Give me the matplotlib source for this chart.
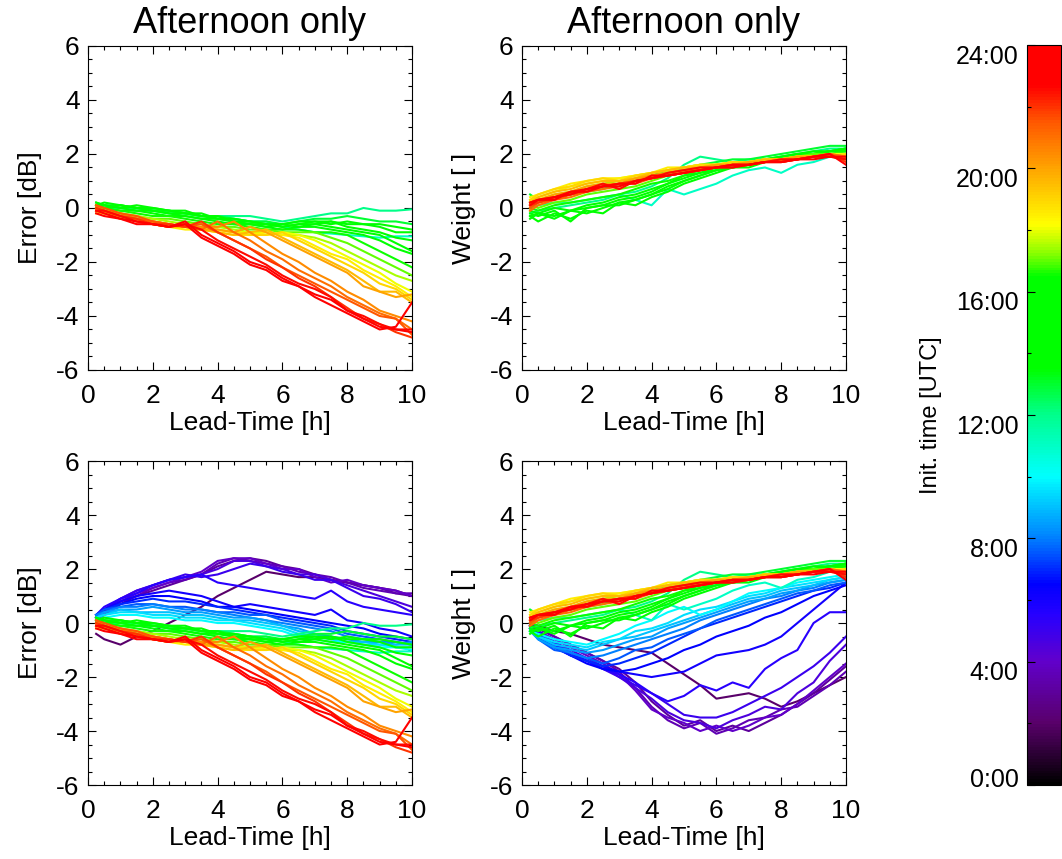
import matplotlib
matplotlib.use('Agg')
import matplotlib.pyplot as plt
import matplotlib.transforms as mtransforms
from matplotlib.colors import LinearSegmentedColormap, Normalize
from matplotlib.cm import ScalarMappable
from matplotlib.ticker import MultipleLocator

plt.rcParams['font.family'] = ['Liberation Sans', 'DejaVu Sans']
plt.rcParams['axes.unicode_minus'] = False

# Lead times [h]
lead = [0.25, 0.5, 1.0, 1.5, 2.0, 2.5, 3.0, 3.5, 4.0, 4.5, 5.0,
        5.5, 6.0, 6.5, 7.0, 7.5, 8.0, 8.5, 9.0, 9.5, 10.0]

# Init times [UTC hours], morning runs (shown only in the lower panels)
init_morning = [2.0, 3.0, 3.5, 4.0, 4.5, 5.0, 5.5, 6.0,
                6.5, 7.0, 7.5, 8.0, 8.5, 9.0, 9.5, 10.0]

# Init times [UTC hours], afternoon runs (all panels)
init_afternoon = [11.0, 12.0, 13.0, 14.0, 14.5, 15.0, 15.5, 16.0, 16.5,
                  17.0, 17.5, 18.0, 18.5, 19.0, 19.5, 20.0, 20.5, 21.0,
                  21.5, 22.0, 22.5, 23.0, 23.5]

# Error [dB], morning runs
err_morning = [
    [-0.4, -0.6, -0.8, -0.5, -0.3, 0.0, 0.3, 0.6, 1.0, 1.3, 1.6, 1.9, 1.8, 1.7, 1.7, 1.6, 1.5, 1.4, 1.3, 1.2, 1.0],
    [0.1, 0.3, 0.7, 1.0, 1.2, 1.4, 1.6, 1.8, 2.1, 2.3, 2.4, 2.3, 2.1, 2.0, 1.8, 1.6, 1.5, 1.4, 1.3, 1.1, 1.0],
    [0.2, 0.4, 0.8, 1.0, 1.3, 1.5, 1.6, 1.8, 2.2, 2.4, 2.3, 2.2, 2.1, 1.9, 1.8, 1.7, 1.5, 1.3, 1.2, 1.1, 1.1],
    [0.2, 0.4, 0.8, 1.1, 1.3, 1.5, 1.7, 1.9, 2.3, 2.4, 2.4, 2.2, 2.0, 2.0, 1.7, 1.5, 1.6, 1.4, 1.3, 1.2, 1.0],
    [0.2, 0.5, 0.9, 1.2, 1.4, 1.6, 1.7, 1.8, 2.0, 2.3, 2.3, 2.1, 2.0, 1.8, 1.8, 1.6, 1.4, 1.2, 1.0, 0.8, 0.6],
    [0.3, 0.5, 0.9, 1.2, 1.4, 1.6, 1.8, 1.7, 1.8, 2.0, 2.2, 2.1, 1.9, 1.8, 1.6, 1.6, 1.3, 1.0, 0.9, 0.7, 0.4],
    [0.3, 0.6, 0.9, 1.1, 1.4, 1.6, 1.7, 1.8, 1.5, 1.4, 1.3, 1.2, 1.1, 1.0, 0.9, 1.2, 0.8, 0.6, 0.5, 0.4, 0.3],
    [0.2, 0.5, 0.8, 1.0, 1.1, 1.2, 1.1, 1.0, 0.8, 0.6, 0.7, 0.6, 0.5, 0.4, 0.3, 0.5, 0.1, 0.0, -0.2, -0.3, -0.5],
    [0.3, 0.5, 0.7, 0.9, 1.0, 1.0, 0.9, 0.8, 0.6, 0.6, 0.5, 0.4, 0.3, 0.2, 0.1, 0.0, -0.1, -0.2, -0.4, -0.5, -0.6],
    [0.3, 0.5, 0.7, 0.8, 0.9, 0.8, 0.8, 0.7, 0.6, 0.5, 0.4, 0.3, 0.2, 0.1, 0.0, -0.1, -0.3, -0.4, -0.5, -0.6, -0.7],
    [0.3, 0.5, 0.6, 0.7, 0.7, 0.6, 0.6, 0.5, 0.4, 0.4, 0.3, 0.3, 0.1, 0.0, -0.1, -0.2, -0.4, -0.5, -0.6, -0.7, -0.8],
    [0.3, 0.4, 0.6, 0.6, 0.7, 0.6, 0.5, 0.5, 0.4, 0.3, 0.2, 0.1, 0.0, -0.1, -0.2, -0.3, -0.5, -0.6, -0.7, -0.7, -0.8],
    [0.2, 0.4, 0.5, 0.5, 0.6, 0.5, 0.4, 0.4, 0.3, 0.2, 0.2, 0.1, -0.1, -0.2, -0.4, -0.5, -0.6, -0.7, -0.7, -0.8, -0.7],
    [0.2, 0.3, 0.5, 0.4, 0.4, 0.4, 0.3, 0.3, 0.2, 0.1, 0.1, 0.0, -0.1, -0.3, -0.4, -0.6, -0.7, -0.7, -0.8, -0.8, -0.8],
    [0.2, 0.3, 0.4, 0.4, 0.3, 0.3, 0.2, 0.2, 0.1, 0.1, 0.0, -0.1, -0.2, -0.4, -0.5, -0.6, -0.7, -0.8, -0.8, -0.9, -0.9],
    [0.1, 0.2, 0.3, 0.3, 0.2, 0.2, 0.1, 0.1, 0.0, 0.0, -0.1, -0.2, -0.3, -0.5, -0.6, -0.7, -0.7, -0.8, -0.9, -0.9, -1.0],
]

# Error [dB], afternoon runs
err_afternoon = [
    [0.1, 0.0, 0.0, -0.1, -0.1, -0.2, -0.2, -0.3, -0.3, -0.4, -0.5, -0.5, -0.7, -0.8, -0.9, -0.95, -1.0, -1.05, -1.1, -1.05, -1.05],
    [0.1, 0.1, 0.0, 0.0, -0.1, -0.1, -0.2, -0.3, -0.3, -0.3, -0.3, -0.4, -0.5, -0.4, -0.3, -0.2, -0.2, 0.0, -0.1, -0.1, -0.05],
    [0.2, 0.1, 0.1, 0.0, -0.1, -0.1, -0.2, -0.3, -0.3, -0.4, -0.5, -0.5, -0.6, -0.5, -0.4, -0.4, -0.3, -0.4, -0.5, -0.5, -0.6],
    [0.1, 0.2, 0.1, 0.0, 0.0, -0.1, -0.2, -0.2, -0.4, -0.4, -0.5, -0.6, -0.6, -0.5, -0.5, -0.6, -0.5, -0.6, -0.6, -0.7, -0.8],
    [0.2, 0.1, 0.0, 0.1, 0.0, -0.1, -0.1, -0.3, -0.3, -0.5, -0.5, -0.6, -0.7, -0.6, -0.5, -0.5, -0.6, -0.6, -0.7, -0.9, -0.9],
    [0.1, 0.0, 0.1, 0.0, -0.1, -0.2, -0.2, -0.3, -0.4, -0.5, -0.6, -0.6, -0.7, -0.6, -0.6, -0.5, -0.7, -0.8, -0.9, -1.1, -1.2],
    [0.0, 0.1, 0.0, -0.1, -0.1, -0.2, -0.3, -0.4, -0.4, -0.5, -0.6, -0.7, -0.6, -0.7, -0.6, -0.7, -0.8, -0.9, -1.0, -1.3, -1.6],
    [0.1, 0.0, -0.1, -0.1, -0.2, -0.3, -0.3, -0.4, -0.5, -0.6, -0.6, -0.7, -0.8, -0.7, -0.7, -0.8, -0.9, -1.0, -1.2, -1.5, -1.7],
    [0.0, 0.0, -0.1, -0.2, -0.3, -0.3, -0.4, -0.5, -0.6, -0.6, -0.7, -0.8, -0.8, -0.8, -0.9, -0.9, -1.0, -1.3, -1.6, -1.9, -2.2],
    [-0.1, -0.1, -0.2, -0.3, -0.4, -0.4, -0.5, -0.6, -0.7, -0.7, -0.8, -0.8, -0.9, -0.9, -0.9, -1.1, -1.3, -1.6, -1.9, -2.2, -2.5],
    [0.0, -0.1, -0.2, -0.3, -0.4, -0.5, -0.6, -0.6, -0.7, -0.8, -0.9, -0.9, -1.0, -1.0, -1.1, -1.3, -1.6, -1.9, -2.2, -2.5, -2.7],
    [-0.1, -0.2, -0.3, -0.4, -0.5, -0.6, -0.7, -0.7, -0.8, -0.9, -0.9, -1.0, -0.9, -1.0, -1.2, -1.5, -1.8, -2.1, -2.4, -2.8, -3.1],
    [-0.2, -0.2, -0.4, -0.4, -0.6, -0.7, -0.8, -0.8, -0.9, -1.0, -1.0, -0.9, -1.0, -1.1, -1.4, -1.7, -1.9, -2.3, -2.6, -2.9, -3.3],
    [-0.1, -0.2, -0.3, -0.5, -0.6, -0.7, -0.7, -0.8, -0.8, -0.9, -1.0, -1.0, -0.9, -1.2, -1.5, -1.8, -2.1, -2.4, -2.8, -3.0, -3.4],
    [-0.1, -0.2, -0.3, -0.4, -0.6, -0.7, -0.7, -0.8, -0.9, -1.0, -0.9, -0.8, -1.1, -1.4, -1.7, -2.0, -2.3, -2.7, -3.1, -3.1, -3.5],
    [0.0, -0.2, -0.3, -0.4, -0.5, -0.6, -0.7, -0.8, -0.8, -0.9, -0.7, -0.9, -1.2, -1.5, -1.8, -2.1, -2.4, -2.9, -3.1, -3.3, -3.2],
    [0.1, -0.1, -0.2, -0.4, -0.5, -0.6, -0.7, -0.7, -0.7, -0.5, -0.9, -1.3, -1.7, -2.0, -2.4, -2.7, -3.1, -3.4, -3.8, -4.0, -4.2],
    [0.0, -0.1, -0.3, -0.4, -0.5, -0.6, -0.7, -0.8, -0.5, -0.9, -1.2, -1.6, -1.9, -2.3, -2.6, -2.9, -3.3, -3.6, -3.9, -4.1, -4.5],
    [0.1, 0.0, -0.2, -0.3, -0.5, -0.6, -0.7, -0.6, -0.9, -1.2, -1.5, -1.8, -2.2, -2.5, -2.8, -3.1, -3.4, -3.7, -4.0, -4.1, -4.7],
    [0.0, -0.1, -0.3, -0.4, -0.6, -0.6, -0.7, -0.5, -0.9, -1.2, -1.5, -1.9, -2.2, -2.6, -2.9, -3.3, -3.7, -4.1, -4.3, -4.6, -4.8],
    [-0.1, -0.1, -0.3, -0.5, -0.6, -0.7, -0.6, -0.8, -1.2, -1.5, -1.8, -2.1, -2.5, -2.8, -3.0, -3.3, -3.8, -4.0, -4.3, -4.5, -4.5],
    [-0.1, -0.2, -0.4, -0.5, -0.6, -0.7, -0.5, -1.0, -1.3, -1.6, -2.0, -2.2, -2.6, -2.9, -3.2, -3.4, -3.8, -4.1, -4.4, -4.5, -4.6],
    [-0.2, -0.3, -0.4, -0.6, -0.6, -0.7, -0.6, -1.1, -1.4, -1.7, -2.1, -2.3, -2.7, -2.9, -3.3, -3.6, -3.9, -4.2, -4.5, -4.4, -3.5],
]

# Weight [ ], morning runs
wgt_morning = [
    [0.0, -0.1, -0.3, -0.4, -0.6, -0.8, -0.9, -1.0, -1.1, -1.5, -1.9, -2.3, -2.8, -2.7, -2.6, -2.8, -3.1, -2.9, -2.6, -2.3, -2.0],
    [0.0, -0.2, -0.5, -0.8, -1.1, -1.4, -1.7, -2.2, -2.9, -3.4, -3.8, -3.6, -4.0, -3.8, -4.0, -3.7, -3.4, -3.0, -2.6, -2.1, -1.6],
    [0.0, -0.2, -0.5, -0.8, -1.1, -1.4, -1.8, -2.4, -3.1, -3.6, -3.9, -3.7, -4.1, -3.9, -3.6, -3.5, -3.2, -3.1, -2.7, -2.3, -1.8],
    [-0.1, -0.3, -0.6, -0.9, -1.2, -1.5, -1.9, -2.5, -3.2, -3.5, -3.7, -4.0, -3.8, -4.0, -3.8, -3.5, -3.4, -3.0, -2.5, -2.0, -1.5],
    [-0.1, -0.3, -0.7, -1.0, -1.3, -1.6, -2.0, -2.4, -2.8, -3.3, -3.6, -3.7, -3.9, -3.6, -3.4, -3.1, -3.2, -2.6, -2.2, -1.4, -0.8],
    [-0.1, -0.3, -0.7, -1.1, -1.4, -1.7, -2.0, -2.3, -2.6, -3.0, -3.4, -3.5, -3.5, -3.3, -3.0, -2.7, -2.4, -2.0, -1.6, -1.1, -0.5],
    [-0.1, -0.4, -0.8, -1.1, -1.4, -1.7, -1.9, -2.2, -2.6, -2.9, -2.7, -2.3, -2.5, -2.2, -2.4, -1.7, -1.3, -1.0, 0.0, 0.4, 0.4],
    [-0.1, -0.4, -0.8, -1.2, -1.4, -1.6, -1.8, -1.9, -2.0, -1.9, -1.8, -1.5, -1.2, -1.1, -1.0, -0.8, -0.5, 0.0, 0.5, 1.0, 1.5],
    [-0.2, -0.5, -0.9, -1.2, -1.5, -1.7, -1.8, -1.7, -1.5, -1.3, -1.0, -0.8, -0.5, -0.3, -0.1, 0.2, 0.4, 0.7, 1.0, 1.2, 1.4],
    [-0.2, -0.5, -0.9, -1.2, -1.4, -1.6, -1.5, -1.3, -1.1, -0.8, -0.5, -0.2, 0.0, 0.2, 0.4, 0.6, 0.8, 1.0, 1.2, 1.3, 1.5],
    [-0.2, -0.6, -1.0, -1.1, -1.3, -1.5, -1.3, -1.0, -0.9, -0.6, -0.4, -0.2, 0.1, 0.3, 0.5, 0.7, 0.9, 1.1, 1.2, 1.4, 1.5],
    [-0.2, -0.6, -0.9, -1.1, -1.3, -1.2, -1.0, -0.8, -0.6, -0.4, -0.2, 0.1, 0.3, 0.5, 0.7, 0.9, 1.0, 1.2, 1.3, 1.5, 1.6],
    [-0.3, -0.6, -0.9, -1.0, -1.1, -1.0, -0.8, -0.6, -0.5, -0.2, 0.0, 0.2, 0.4, 0.6, 0.8, 0.9, 1.1, 1.2, 1.4, 1.5, 1.6],
    [-0.3, -0.5, -0.8, -0.9, -1.0, -0.8, -0.6, -0.5, -0.3, -0.1, 0.1, 0.3, 0.5, 0.7, 0.9, 1.0, 1.2, 1.3, 1.4, 1.6, 1.7],
    [-0.3, -0.5, -0.7, -0.8, -0.9, -0.7, -0.6, -0.3, -0.2, 0.0, 0.3, 0.5, 0.6, 0.8, 1.0, 1.1, 1.3, 1.4, 1.5, 1.6, 1.7],
    [-0.3, -0.4, -0.6, -0.7, -0.8, -0.6, -0.4, -0.1, 0.1, 0.4, 0.6, 0.3, 0.5, 0.8, 1.1, 1.2, 1.3, 1.5, 1.6, 1.7, 1.8],
]

# Weight [ ], afternoon runs
wgt_afternoon = [
    [0.0, 0.1, 0.2, 0.2, 0.3, 0.4, 0.5, 0.3, 0.1, 0.7, 0.5, 0.7, 0.9, 1.2, 1.4, 1.5, 1.3, 1.6, 1.7, 1.9, 2.0],
    [-0.2, -0.1, 0.0, 0.1, 0.2, 0.3, 0.5, 0.6, 0.8, 1.1, 1.6, 1.9, 1.8, 1.7, 1.8, 1.8, 1.9, 2.0, 2.1, 2.2, 2.2],
    [0.5, 0.3, 0.4, 0.5, 0.6, 0.7, 0.9, 1.0, 1.2, 1.4, 1.5, 1.6, 1.7, 1.8, 1.8, 1.9, 2.0, 2.1, 2.2, 2.3, 2.3],
    [-0.3, -0.2, -0.4, -0.1, -0.2, 0.0, 0.2, 0.1, 0.4, 0.6, 0.9, 1.1, 1.3, 1.5, 1.6, 1.7, 1.8, 1.9, 2.0, 2.1, 2.2],
    [-0.4, -0.2, -0.3, -0.1, 0.0, 0.1, 0.1, 0.3, 0.5, 0.7, 1.0, 1.2, 1.4, 1.5, 1.6, 1.7, 1.8, 1.9, 2.0, 2.1, 2.1],
    [-0.3, -0.5, -0.2, -0.4, -0.1, -0.2, 0.2, 0.3, 0.5, 0.8, 1.0, 1.2, 1.4, 1.5, 1.5, 1.7, 1.8, 1.9, 2.0, 2.1, 2.2],
    [-0.2, -0.3, -0.1, -0.5, 0.0, 0.1, 0.3, 0.4, 0.6, 0.9, 1.1, 1.3, 1.4, 1.6, 1.7, 1.8, 1.9, 2.0, 2.1, 2.1, 2.2],
    [-0.1, -0.2, 0.0, -0.1, 0.1, 0.2, 0.4, 0.5, 0.7, 0.9, 1.2, 1.3, 1.5, 1.6, 1.7, 1.8, 1.9, 2.0, 2.0, 2.1, 2.1],
    [0.0, -0.1, 0.1, 0.2, 0.3, 0.4, 0.5, 0.7, 0.9, 1.0, 1.2, 1.4, 1.5, 1.6, 1.7, 1.8, 1.8, 1.9, 2.0, 2.0, 2.1],
    [0.1, 0.0, 0.2, 0.3, 0.5, 0.6, 0.7, 0.8, 1.0, 1.2, 1.3, 1.4, 1.5, 1.6, 1.7, 1.8, 1.8, 1.9, 2.0, 2.0, 2.0],
    [0.2, 0.3, 0.5, 0.6, 0.8, 0.9, 1.0, 1.1, 1.2, 1.3, 1.4, 1.5, 1.6, 1.7, 1.7, 1.8, 1.8, 1.9, 1.9, 2.0, 2.0],
    [0.3, 0.4, 0.6, 0.8, 0.9, 1.0, 1.1, 1.2, 1.3, 1.4, 1.5, 1.6, 1.6, 1.7, 1.7, 1.8, 1.8, 1.9, 1.9, 2.0, 2.0],
    [0.4, 0.5, 0.7, 0.9, 1.0, 1.1, 1.1, 1.2, 1.3, 1.5, 1.5, 1.6, 1.6, 1.7, 1.7, 1.8, 1.8, 1.9, 1.9, 2.0, 1.9],
    [0.3, 0.5, 0.7, 0.8, 1.0, 1.1, 1.0, 1.2, 1.3, 1.4, 1.5, 1.6, 1.6, 1.7, 1.7, 1.8, 1.8, 1.9, 1.9, 1.9, 2.0],
    [0.2, 0.4, 0.6, 0.7, 0.9, 1.0, 1.0, 1.1, 1.3, 1.4, 1.5, 1.5, 1.6, 1.6, 1.7, 1.8, 1.8, 1.9, 1.9, 2.0, 1.9],
    [0.1, 0.3, 0.5, 0.6, 0.8, 0.9, 0.9, 1.1, 1.2, 1.3, 1.4, 1.5, 1.6, 1.6, 1.7, 1.7, 1.8, 1.9, 1.9, 2.0, 1.9],
    [0.0, 0.2, 0.4, 0.5, 0.7, 0.8, 0.9, 1.0, 1.2, 1.3, 1.4, 1.5, 1.5, 1.6, 1.6, 1.7, 1.8, 1.8, 1.9, 2.0, 1.8],
    [-0.1, 0.1, 0.3, 0.4, 0.6, 0.7, 0.8, 1.0, 1.1, 1.3, 1.4, 1.4, 1.5, 1.6, 1.6, 1.7, 1.8, 1.8, 1.9, 2.0, 1.9],
    [0.0, 0.2, 0.3, 0.5, 0.6, 0.8, 0.9, 0.9, 1.1, 1.2, 1.3, 1.4, 1.5, 1.6, 1.6, 1.7, 1.7, 1.8, 1.9, 1.9, 1.8],
    [0.1, 0.2, 0.4, 0.5, 0.7, 0.8, 0.9, 1.0, 1.1, 1.2, 1.3, 1.4, 1.5, 1.5, 1.6, 1.7, 1.7, 1.8, 1.9, 2.0, 1.7],
    [0.2, 0.3, 0.4, 0.6, 0.7, 0.9, 0.7, 1.0, 1.1, 1.3, 1.4, 1.5, 1.5, 1.6, 1.6, 1.7, 1.8, 1.8, 1.9, 1.9, 1.8],
    [0.1, 0.3, 0.3, 0.6, 0.6, 0.8, 0.9, 0.9, 1.2, 1.2, 1.3, 1.4, 1.5, 1.6, 1.6, 1.7, 1.7, 1.8, 1.9, 2.0, 1.6],
    [0.2, 0.3, 0.4, 0.5, 0.7, 0.8, 0.8, 1.0, 1.1, 1.2, 1.3, 1.4, 1.5, 1.5, 1.6, 1.7, 1.7, 1.8, 1.8, 1.9, 1.9],
]

# IDL-like rainbow colour table (black -> purple -> blue -> cyan -> green -> yellow -> red)
cmap = LinearSegmentedColormap.from_list('idl_rainbow', [
    (0.000, (0.00, 0.00, 0.00)),
    (0.083, (0.35, 0.00, 0.42)),
    (0.167, (0.38, 0.00, 0.80)),
    (0.229, (0.15, 0.00, 1.00)),
    (0.271, (0.00, 0.00, 1.00)),
    (0.333, (0.00, 0.50, 1.00)),
    (0.417, (0.00, 1.00, 1.00)),
    (0.500, (0.00, 1.00, 0.55)),
    (0.5625, (0.00, 1.00, 0.00)),
    (0.6875, (0.00, 1.00, 0.00)),
    (0.720, (0.55, 1.00, 0.00)),
    (0.758, (1.00, 1.00, 0.00)),
    (0.833, (1.00, 0.65, 0.00)),
    (0.896, (1.00, 0.35, 0.00)),
    (0.946, (1.00, 0.00, 0.00)),
    (1.000, (1.00, 0.00, 0.00)),
])
norm = Normalize(0, 24)


def draw_panel(ax, inits, rows, ylabel, title=None):
    for t, row in zip(inits, rows):
        ax.plot(lead, row, color=cmap(norm(t)), lw=1.5)
    ax.set_xlim(0, 10)
    ax.set_ylim(-6, 6)
    ax.xaxis.set_major_locator(MultipleLocator(2))
    ax.xaxis.set_minor_locator(MultipleLocator(0.5))
    ax.yaxis.set_major_locator(MultipleLocator(2))
    ax.yaxis.set_minor_locator(MultipleLocator(0.5))
    ax.tick_params(which='both', direction='in', top=True, right=True,
                   labelsize=19, width=0.8)
    ax.tick_params(which='major', length=5.5)
    ax.tick_params(which='minor', length=3)
    ax.tick_params(axis='x', pad=10)
    ax.tick_params(axis='y', pad=6)
    for s in ax.spines.values():
        s.set_linewidth(0.8)
    ax.set_xlabel('Lead-Time [h]', fontsize=19, labelpad=2)
    ax.set_ylabel(ylabel, fontsize=19, labelpad=10)
    if title:
        ax.set_title(title, fontsize=26, pad=9)


fig = plt.figure(figsize=(10.62, 8.59), dpi=100)

ax_tl = fig.add_axes([0.0829, 0.5693, 0.3051, 0.3772])
ax_tr = fig.add_axes([0.4915, 0.5693, 0.3051, 0.3772])
ax_bl = fig.add_axes([0.0829, 0.0861, 0.3051, 0.3772])
ax_br = fig.add_axes([0.4915, 0.0861, 0.3051, 0.3772])

draw_panel(ax_tl, init_afternoon, err_afternoon, 'Error [dB]', 'Afternoon only')
draw_panel(ax_tr, init_afternoon, wgt_afternoon, 'Weight [ ]', 'Afternoon only')
draw_panel(ax_bl, init_morning + init_afternoon, err_morning + err_afternoon, 'Error [dB]')
draw_panel(ax_br, init_morning + init_afternoon, wgt_morning + wgt_afternoon, 'Weight [ ]')

# colour bar
cax = fig.add_axes([0.9670, 0.0861, 0.0320, 0.8615])
sm = ScalarMappable(norm=norm, cmap=cmap)
cb = fig.colorbar(sm, cax=cax, ticks=[0, 4, 8, 12, 16, 20, 24])
cb.ax.set_yticklabels(['0:00', '4:00', '8:00', '12:00', '16:00', '20:00', '24:00'])
cb.ax.yaxis.set_minor_locator(MultipleLocator(2))
cb.ax.yaxis.set_ticks_position('left')
cb.ax.yaxis.set_label_position('left')
cb.ax.tick_params(which='both', direction='in', labelsize=18, pad=6,
                  color='black', width=0.8)
cb.ax.tick_params(which='major', length=6)
cb.ax.tick_params(which='minor', length=3)
cb.outline.set_linewidth(0.8)
cb.set_label('Init. time [UTC]', fontsize=17, labelpad=10)

for lab in cb.ax.get_yticklabels():
    dy = 8 if lab.get_text() == '0:00' else -9
    lab.set_transform(lab.get_transform() +
                      mtransforms.ScaledTranslation(0, dy / 100, fig.dpi_scale_trans))

fig.savefig('out.png', dpi=100, facecolor='white')
